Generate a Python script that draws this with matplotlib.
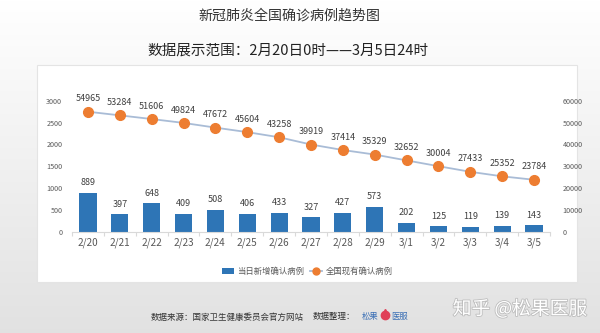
import matplotlib
matplotlib.use("Agg")
import matplotlib.pyplot as plt
import numpy as np
from matplotlib.patches import Rectangle, Patch
from matplotlib.lines import Line2D
import matplotlib.patheffects as pe

plt.rcParams['font.family'] = ['Noto Sans CJK SC', 'DejaVu Sans']

dates = ["2/20", "2/21", "2/22", "2/23", "2/24", "2/25", "2/26", "2/27",
         "2/28", "2/29", "3/1", "3/2", "3/3", "3/4", "3/5"]
new_cases = [889, 397, 648, 409, 508, 406, 433, 327, 427, 573, 202, 125, 119, 139, 143]
current_cases = [54965, 53284, 51606, 49824, 47672, 45604, 43258, 39919,
                 37414, 35329, 32652, 30004, 27433, 25352, 23784]
left_ticks = [0, 500, 1000, 1500, 2000, 2500, 3000]
right_ticks = [0, 10000, 20000, 30000, 40000, 50000, 60000]

W, H = 600, 333
fig = plt.figure(figsize=(W / 100, H / 100), dpi=100)

# background gradient
bg = fig.add_axes([0, 0, 1, 1], zorder=-10)
grad = np.linspace(1.0, 0.885, 256).reshape(-1, 1)
bg.imshow(np.dstack([grad, grad, grad]), aspect='auto', extent=[0, 1, 0, 1],
          origin='upper')
bg.set_axis_off()

def fx(x): return x / W
def fy(y): return 1 - y / H

# white panel
panel = Rectangle((fx(37), fy(282)), fx(577) - fx(37), fy(65) - fy(282),
                  transform=fig.transFigure, facecolor='white',
                  edgecolor='#e4e4e4', linewidth=0.8, zorder=-5)
fig.patches.append(panel)

# main axes
n = len(dates)
x = np.arange(n)
left_px, right_px = 72, 550
ax = fig.add_axes([fx(left_px), fy(231.7), fx(right_px) - fx(left_px), fy(100.7) - fy(231.7)])
ax.set_facecolor('none')
ax.bar(x, new_cases, width=0.54, color='#2E75B6', zorder=2)
ax.set_xlim(-0.5, n - 0.5)
ax.set_ylim(0, 3000)
ax.set_yticks(left_ticks)
ax.set_yticklabels([str(t) for t in left_ticks])
ax.tick_params(axis='y', length=0, labelsize=5.2, labelcolor='#595959', pad=7)
ax.set_xticks(x)
ax.set_xticklabels(dates)
ax.tick_params(axis='x', length=0, labelsize=7.2, labelcolor='#595959', pad=4)
ax.set_xticks(np.arange(-0.5, n, 1), minor=True)
ax.tick_params(axis='x', which='minor', length=3, color='#d9d9d9', width=0.8)
for s in ['top', 'left', 'right']:
    ax.spines[s].set_visible(False)
ax.spines['bottom'].set_color('#d9d9d9')
ax.spines['bottom'].set_linewidth(0.8)
for xi, v in zip(x, new_cases):
    ax.annotate(str(v), (xi, v), xytext=(0, 4), textcoords='offset points',
                ha='center', va='bottom', fontsize=6.5, color='#404040',
                clip_on=False)

ax2 = ax.twinx()
ax2.set_ylim(0, 60000)
ax2.plot(x, current_cases, color='#A9BCD6', linewidth=1.3, marker='o',
         markersize=7, markerfacecolor='#ED7D31', markeredgecolor='#ED7D31',
         zorder=3, clip_on=False)
ax2.set_yticks(right_ticks)
ax2.set_yticklabels([str(t) for t in right_ticks])
ax2.tick_params(axis='y', length=0, labelsize=5.2, labelcolor='#595959', pad=9)
for s in ['top', 'left', 'right', 'bottom']:
    ax2.spines[s].set_visible(False)
for xi, v in zip(x, current_cases):
    ax2.annotate(str(v), (xi, v), xytext=(0, 6), textcoords='offset points',
                 ha='center', va='bottom', fontsize=6.5, color='#404040',
                 clip_on=False)

# legend
handles = [Patch(facecolor='#2E75B6', edgecolor='none'),
           Line2D([0], [0], color='#A9BCD6', linewidth=1.3, marker='o',
                  markersize=5, markerfacecolor='#ED7D31', markeredgecolor='#ED7D31')]
fig.legend(handles, ['当日新增确认病例', '全国现有确认病例'], loc='center',
           bbox_to_anchor=(fx(307), fy(271)), ncol=2, frameon=False,
           fontsize=6.0, labelcolor='#595959', handlelength=1.5,
           handletextpad=0.4, columnspacing=0.6, handleheight=0.7)

# titles
fig.text(fx(289), fy(16), '新冠肺炎全国确诊病例趋势图', ha='center', va='center',
         fontsize=10.1, color='#333333')
fig.text(fx(288), fy(51), '数据展示范围：2月20日0时——3月5日24时', ha='center',
         va='center', fontsize=10.5, color='#222222')

# footer
fig.text(fx(151), fy(317), '数据来源：国家卫生健康委员会官方网站', ha='left',
         va='center', fontsize=6.1, color='#333333')
fig.text(fx(313), fy(317), '数据整理：', ha='left', va='center',
         fontsize=6.1, color='#333333')
fig.text(fx(362), fy(317), '松果', ha='left', va='center', fontsize=6.0,
         color='#3a6fb5')
fig.text(fx(391), fy(317), '医服', ha='left', va='center', fontsize=6.0,
         color='#3a6fb5')
fig.add_artist(Line2D([fx(385)], [fy(315)], transform=fig.transFigure,
                      marker='o', markersize=6, color='#e04058', linestyle='none'))
fig.add_artist(Line2D([fx(385)], [fy(310.5)], transform=fig.transFigure,
                      marker='^', markersize=3, color='#e04058', linestyle='none'))

# watermark
fig.text(fx(520), fy(309), '知乎 @松果医服', ha='center', va='center',
         fontsize=13.5, color='#ffffff',
         path_effects=[pe.withStroke(linewidth=1.2, foreground='#bdbdbd')])

fig.savefig('out.png', dpi=100)
